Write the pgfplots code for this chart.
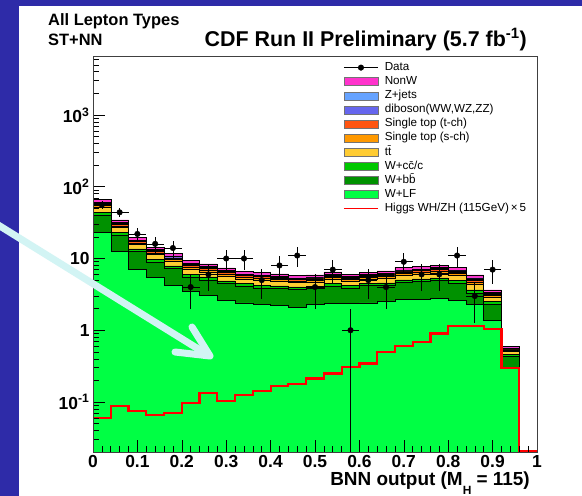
\documentclass[border=0pt]{standalone}
\usepackage{fontspec}
\setmainfont{Liberation Sans}
\usepackage{pgfplots}
\usepackage{pgfplotstable}
\pgfplotsset{compat=1.18}

\definecolor{slideblue}{HTML}{2E2BA8}
\definecolor{nonw}{HTML}{FF33CC}
\definecolor{zjets}{HTML}{66A3FF}
\definecolor{dib}{HTML}{6666EE}
\definecolor{stt}{HTML}{FF5511}
\definecolor{sts}{HTML}{FF9900}
\definecolor{ttb}{HTML}{FFCC33}
\definecolor{wcc}{HTML}{00C800}
\definecolor{wbb}{HTML}{009100}
\definecolor{wlf}{HTML}{00FF44}
\definecolor{arrowc}{HTML}{D2F4F4}

% cumulative stack tops per bin (W+LF at the bottom ... NonW on top)
\pgfplotstableread{
x    lf     bb     cc     tt     s      t      db     z      tot
0.00 1e-4   1e-4   1e-4   1e-4   1e-4   1e-4   1e-4   1e-4   1e-4
0.00 23.2   40     43.8   51.4   54.6   57.1   59.1   60.6   66
0.04 12.5   21     23.0   26.9   28.6   29.9   30.9   31.7   34.5
0.08 7.0    12.6   13.6   15.7   16.5   17.2   17.7   18.1   19.5
0.12 5.4    8.9    9.7    11.3   12.0   12.5   12.95  13.3   14.4
0.16 4.2    7.2    7.87   9.22   9.78   10.2   10.6   10.85  11.8
0.20 3.5    5.5    6.06   7.19   7.67   8.05   8.36   8.58   9.4
0.24 3.06   5.05   5.53   6.51   6.92   7.25   7.51   7.70   8.4
0.28 2.6    4.45   4.88   5.74   6.10   6.39   6.62   6.79   7.4
0.32 2.4    4.1    4.47   5.20   5.51   5.75   5.94   6.09   6.6
0.36 2.3    3.9    4.27   5.02   5.33   5.57   5.77   5.92   6.45
0.40 2.2    3.8    4.14   4.81   5.10   5.32   5.50   5.63   6.1
0.44 2.1    3.7    4.01   4.63   4.89   5.09   5.25   5.37   5.8
0.48 2.3    3.8    4.11   4.74   4.99   5.19   5.36   5.48   5.9
0.52 2.35   4.1    4.45   5.16   5.46   5.69   5.87   6.01   6.5
0.56 2.35   3.9    4.21   4.84   5.09   5.30   5.46   5.58   6.0
0.60 2.4    4.2    4.53   5.18   5.45   5.66   5.83   5.96   6.4
0.64 2.55   4.2    4.57   5.32   5.64   5.88   6.08   6.23   6.75
0.68 2.67   4.6    5.02   5.87   6.23   6.51   6.74   6.90   7.5
0.72 2.72   4.75   5.19   6.09   6.46   6.76   6.99   7.17   7.8
0.76 2.75   4.9    5.36   6.30   6.69   7.00   7.25   7.44   8.1
0.80 2.62   4.5    4.93   5.81   6.18   6.47   6.70   6.88   7.5
0.84 2.3    3.3    3.66   4.41   4.73   4.99   5.19   5.35   5.9
0.88 1.38   2.3    2.50   2.90   3.06   3.19   3.30   3.37   3.65
0.92 0.30   0.435  0.461  0.511  0.531  0.547  0.559  0.568  0.6
0.96 1e-4   1e-4   1e-4   1e-4   1e-4   1e-4   1e-4   1e-4   1e-4
}\stack

\pgfplotstableread{
x    y   ex   eyp   eym
0.02 56  0.02 7.48  7.48
0.06 44  0.02 6.63  6.63
0.10 22  0.02 4.69  4.69
0.14 16  0.02 4.0   4.0
0.18 14  0.02 3.74  3.74
0.22 4   0.02 2.0   2.0
0.26 6   0.02 2.45  2.45
0.30 10  0.02 3.16  3.16
0.34 10  0.02 3.16  3.16
0.38 5   0.02 2.24  2.24
0.42 8   0.02 2.83  2.83
0.46 11  0.02 3.32  3.32
0.50 4   0.02 2.0   2.0
0.54 7   0.02 2.65  2.65
0.58 1   0.02 1.0   0.999
0.62 5   0.02 2.24  2.24
0.66 4   0.02 2.0   2.0
0.70 9   0.02 3.0   3.0
0.74 6   0.02 2.45  2.45
0.78 6   0.02 2.45  2.45
0.82 11  0.02 3.32  3.32
0.86 3   0.02 1.73  1.73
0.90 7   0.02 2.65  2.65
}\data

% Higgs WH/ZH x5
\pgfplotstableread{
x    h
0.00 0.0605
0.04 0.0886
0.08 0.074
0.12 0.0667
0.16 0.0711
0.20 0.0975
0.24 0.134
0.28 0.103
0.32 0.126
0.36 0.142
0.40 0.168
0.44 0.178
0.48 0.213
0.52 0.25
0.56 0.309
0.60 0.345
0.64 0.50
0.68 0.60
0.72 0.69
0.76 0.90
0.80 1.14
0.84 1.14
0.88 1.03
0.92 0.30
0.96 0.0205
1.00 0.0205
}\higgs

\newcommand{\legbox}[2]{%
  \addlegendimage{legend image code/.code={\draw[fill=#1,draw=black!55,line width=0.5bp] (0bp,-4bp) rectangle (34bp,4bp);}}%
  \addlegendentry{#2}}

\begin{document}
\begin{tikzpicture}
\useasboundingbox (0,0) rectangle (582bp,-496bp);
\fill[slideblue] (0,0) rectangle (582bp,-496bp);
\fill[white] (19bp,-6bp) rectangle (582bp,-496bp);

\begin{axis}[
    at={(93bp,-452bp)}, anchor=south west,
    scale only axis, width=444bp, height=396bp,
    xmin=0, xmax=1, ymin=0.0201, ymax=6640,
    ymode=log,
    axis on top,
    tick pos=left,
    xtick={0,0.1,0.2,0.3,0.4,0.5,0.6,0.7,0.8,0.9,1},
    xticklabels={0,0.1,0.2,0.3,0.4,0.5,0.6,0.7,0.8,0.9,1},
    minor xtick={0.02,0.04,...,0.98},
    ytick={0.1,1,10,100,1000},
    yticklabels={10\textsuperscript{-1},1,10,10\textsuperscript{2},10\textsuperscript{3}},
    minor ytick={0.03,0.04,0.05,0.06,0.07,0.08,0.09,0.2,0.3,0.4,0.5,0.6,0.7,0.8,0.9,
                 2,3,4,5,6,7,8,9,20,30,40,50,60,70,80,90,200,300,400,500,600,700,800,900,
                 2000,3000,4000,5000,6000},
    tick label style={font=\bfseries\fontsize{17.5}{18}\selectfont, black},
    major tick length=12bp, minor tick length=6bp,
    axis line style={draw=black!75, line width=0.8bp},
    every tick/.style={black, line width=0.6bp},
    xlabel={BNN output (M\raisebox{-9bp}{\fontsize{12}{12}\selectfont H} = 115)},
    xlabel style={at={(rel axis cs:1,0)}, anchor=base east, yshift=-33bp, xshift=-7bp,
                  inner sep=0pt, font=\bfseries\fontsize{19}{20}\selectfont},
    legend style={draw=none, fill=none, at={(axis description cs:0.563,0.988)},
                  anchor=north west, inner sep=0pt, row sep=0.8bp, column sep=5bp,
                  font=\fontsize{11.7}{11.7}\selectfont,
                  nodes={inner sep=1bp, text height=8.5bp, text depth=2.8bp}},
    legend cell align=left,
]
\addlegendimage{legend image code/.code={\draw[black,line width=0.8bp] (0bp,0bp) -- (34bp,0bp); \fill[black] (17bp,0bp) circle (2.8bp);}}
\addlegendentry{Data}
\legbox{nonw}{NonW}
\legbox{zjets}{Z+jets}
\legbox{dib}{diboson(WW,WZ,ZZ)}
\legbox{stt}{Single top (t-ch)}
\legbox{sts}{Single top (s-ch)}
\legbox{ttb}{t\={t}}
\legbox{wcc}{W+c\={c}/c}
\legbox{wbb}{W+b\={b}}
\legbox{wlf}{W+LF}
\addlegendimage{legend image code/.code={\draw[red,line width=1.6bp] (0bp,0bp) -- (34bp,0bp);}}
\addlegendentry{Higgs WH/ZH (115GeV)\,×\,5}

% stacked backgrounds, drawn from the total downwards
\addplot[const plot, fill=nonw,  draw=black, line width=0.5bp, forget plot] table[x=x, y=tot] {\stack} -- cycle;
\addplot[const plot, fill=zjets, draw=black, line width=0.5bp, forget plot] table[x=x, y=z]   {\stack} -- cycle;
\addplot[const plot, fill=dib,   draw=black, line width=0.5bp, forget plot] table[x=x, y=db]  {\stack} -- cycle;
\addplot[const plot, fill=stt,   draw=black, line width=0.5bp, forget plot] table[x=x, y=t]   {\stack} -- cycle;
\addplot[const plot, fill=sts,   draw=black, line width=0.5bp, forget plot] table[x=x, y=s]   {\stack} -- cycle;
\addplot[const plot, fill=ttb,   draw=black, line width=0.5bp, forget plot] table[x=x, y=tt]  {\stack} -- cycle;
\addplot[const plot, fill=wcc,   draw=black, line width=0.5bp, forget plot] table[x=x, y=cc]  {\stack} -- cycle;
\addplot[const plot, fill=wbb,   draw=black, line width=0.5bp, forget plot] table[x=x, y=bb]  {\stack} -- cycle;
\addplot[const plot, fill=wlf,   draw=black, line width=0.5bp, forget plot] table[x=x, y=lf]  {\stack} -- cycle;

% signal
\addplot[const plot, red, line width=2.2bp, forget plot] table[x=x, y=h] {\higgs};

% data
\addplot[only marks, mark=*, mark size=2.8bp, black, forget plot,
    error bars/.cd, x dir=both, x explicit, y dir=both, y explicit,
    error bar style={line width=0.7bp, black}, error mark=none]
    table[x=x, y=y, x error=ex, y error plus=eyp, y error minus=eym] {\data};
\end{axis}

\node[anchor=base west, inner sep=0pt, font=\bfseries\fontsize{16.5}{18}\selectfont] at (48bp,-25bp) {All Lepton Types};
\node[anchor=base west, inner sep=0pt, font=\bfseries\fontsize{16.5}{18}\selectfont] at (48bp,-45bp) {ST+NN};
\node[anchor=base east, inner sep=0pt, font=\bfseries\fontsize{21.5}{22}\selectfont] at (527bp,-46bp) {CDF Run II Preliminary (5.7 fb\textsuperscript{-1})};

% arrow pointing into the plot
\draw[arrowc, line width=7bp, line cap=round, line join=round] (-5bp,-223bp) -- (208bp,-355bp);
\draw[arrowc, line width=7bp, line cap=round, line join=round] (192bp,-327bp) -- (210bp,-356bp) -- (175bp,-352bp);
\end{tikzpicture}
\end{document}
